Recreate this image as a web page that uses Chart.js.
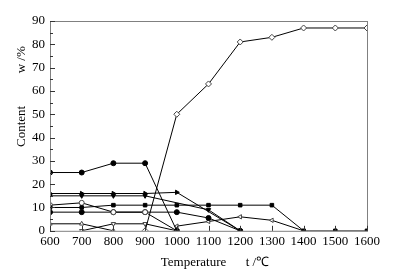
<!DOCTYPE html>
<html>
<head>
<meta charset="utf-8">
<script src="https://cdn.jsdelivr.net/npm/chart.js@4"></script>
<style>
  html, body { margin: 0; padding: 0; background: #fff; }
  #wrap { width: 394px; height: 273px; }
</style>
</head>
<body>
<div id="wrap"><canvas id="mc"></canvas></div>
<script>
const temps = [600, 700, 800, 900, 1000, 1100, 1200, 1300, 1400, 1500, 1600];
const yTicks = [0, 10, 20, 30, 40, 50, 60, 70, 80, 90];

// content w/% per temperature (null = no point)
const solidCircle  = [25, 25, 29, 29, 0, null, null, null, null, null, null];
const openDiamond  = [null, null, null, 0, 50, 63, 81, 83, 87, 87, 87];
const rightTri     = [16, 16, 16, 16, 16.5, null, 0, null, null, null, null];
const downTri      = [15, 15, 15, 15, null, 9, 0, null, null, null, null];
const solidSquare  = [10, 10, 11, 11, 11, 11, 11, 11, 0, 0, 0];
const openCircle   = [11, 12, 8, 8, 0, null, null, null, null, null, null];
const smallCircle  = [8, 8, 8, 8, 8, 5.5, 0, null, null, null, null];
const openUpTri    = [3, 3, 0, null, null, null, null, null, null, null, null];
const openDownTri  = [null, 0, 3, 3, 0, null, null, null, null, null, null];
const openLeftTri  = [null, null, null, null, 2, 4, 6, 4.5, 0, null, null];

const ctx = document.getElementById('mc');
const serif = "'Liberation Serif', 'Times New Roman', serif";
const nb = n => '\u00a0'.repeat(n);

function pts(vals) {
    const out = [];
    vals.forEach((v, i) => { if (v !== null) out.push({ x: temps[i], y: v }); });
    return out;
}

function ds(vals, style, filled, rot) {
    return {
        data: pts(vals),
        borderColor: '#000',
        borderWidth: 1,
        pointStyle: style,
        pointRotation: rot || 0,
        pointRadius: style === 'rectRot' ? 3 : 2.5,
        pointBackgroundColor: filled ? '#000' : '#fff',
        pointBorderColor: filled ? '#000' : '#444',
        pointBorderWidth: 1,
        fill: false,
        tension: 0
    };
}

// frame + inward ticks
const frame = {
    id: 'frame',
    afterDraw(chart) {
        const a = chart.chartArea, c = chart.ctx;
        const xs = chart.scales.x, ys = chart.scales.y;
        c.save();
        c.strokeStyle = '#808080';
        c.lineWidth = 1;
        c.strokeRect(a.left + 0.5, a.top + 0.5, a.right - a.left, a.bottom - a.top);
        c.strokeStyle = '#333';
        c.beginPath();
        for (let v = 0; v <= 90; v += 5) {
            const y = Math.round(ys.getPixelForValue(v)) + 0.5;
            c.moveTo(a.left, y);
            c.lineTo(a.left + (v % 10 === 0 ? 5 : 3), y);
        }
        temps.forEach(t => {
            const x = Math.round(xs.getPixelForValue(t)) + 0.5;
            c.moveTo(x, a.bottom);
            c.lineTo(x, a.bottom - 5);
        });
        c.stroke();
        c.restore();
    }
};

new Chart(ctx, {
    type: 'line',
    data: {
        datasets: [
            ds(openDiamond, 'rectRot', false),
            ds(solidCircle, 'circle', true),
            ds(rightTri, 'triangle', true, 90),
            ds(downTri, 'triangle', true, 180),
            ds(solidSquare, 'rect', true),
            ds(openCircle, 'circle', false),
            ds(smallCircle, 'circle', true),
            ds(openUpTri, 'triangle', false),
            ds(openDownTri, 'triangle', false, 180),
            ds(openLeftTri, 'triangle', false, -90)
        ]
    },
    options: {
        responsive: true,
        maintainAspectRatio: false,
        animation: false,
        layout: { padding: { top: 21, right: 27, left: 14, bottom: 3 } },
        plugins: { legend: { display: false }, tooltip: { enabled: false } },
        scales: {
            x: {
                type: 'linear',
                min: 600,
                max: 1600,
                grid: { display: false, drawTicks: false },
                border: { display: false },
                afterBuildTicks(s) { s.ticks = temps.map(v => ({ value: v })); },
                ticks: {
                    color: '#000', font: { family: serif, size: 13 }, padding: 3, maxRotation: 0,
                    callback: v => String(v)
                },
                title: {
                    display: true,
                    text: nb(4) + 'Temperature      t /℃',
                    color: '#000',
                    font: { family: serif, size: 13 },
                    padding: { top: 2, bottom: 0 }
                }
            },
            y: {
                min: 0,
                max: 90,
                grid: { display: false, drawTicks: false },
                border: { display: false },
                afterBuildTicks(s) { s.ticks = yTicks.map(v => ({ value: v })); },
                afterFit(s) { s.width = 36; },
                ticks: { color: '#000', font: { family: serif, size: 13 }, padding: 5, callback: v => String(v) },
                title: {
                    display: true,
                    text: nb(18) + 'Content' + nb(10) + 'w /%',
                    color: '#000',
                    font: { family: serif, size: 13 },
                    padding: { top: 0, bottom: 2 }
                }
            }
        }
    },
    plugins: [frame]
});
</script>
</body>
</html>
